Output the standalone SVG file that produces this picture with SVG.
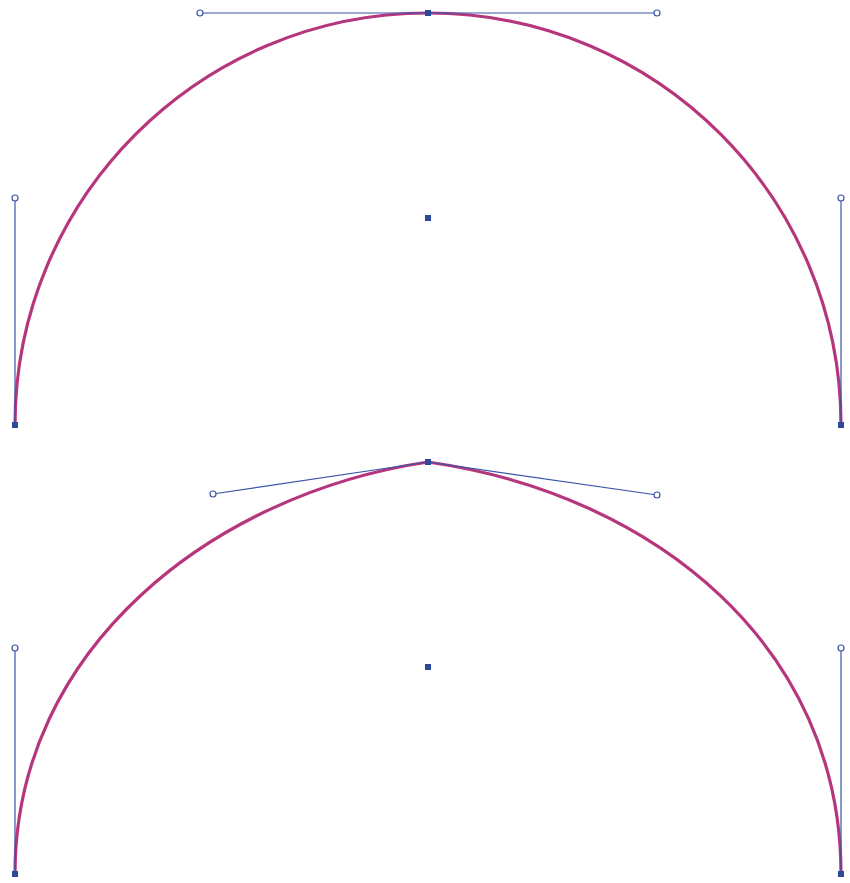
<svg xmlns="http://www.w3.org/2000/svg" width="850" height="883" viewBox="0 0 850 883">
<style>
.arc{fill:none;stroke:#c0357a;stroke-width:3.2}
.sel{fill:none;stroke:#3a4fa0;stroke-width:0.6;opacity:0.4}
.h{stroke:#3a55a8;stroke-width:1.2;fill:none}
.hc{fill:#fff;stroke:#3a55a8;stroke-width:1.2}
.pt{fill:#2d4a9a}
</style>
<rect width="850" height="883" fill="#fff"/>
<g id="top">
<g id="top-curve">
<path class="arc" d="M15,425 C15,198 200,13 428,13 C657,13 841,198 841,425"/>
<path class="sel" d="M15,425 C15,198 200,13 428,13 C657,13 841,198 841,425"/>
</g>
<g id="top-handles">
<line class="h" x1="15" y1="425" x2="15" y2="198"/>
<line class="h" x1="200" y1="13" x2="657" y2="13"/>
<line class="h" x1="841" y1="425" x2="841" y2="198"/>
<circle class="hc" cx="15" cy="198" r="3"/>
<circle class="hc" cx="200" cy="13" r="3"/>
<circle class="hc" cx="657" cy="13" r="3"/>
<circle class="hc" cx="841" cy="198" r="3"/>
</g>
<g id="top-points">
<rect class="pt" x="12" y="422" width="6" height="6"/>
<rect class="pt" x="425" y="10" width="6" height="6"/>
<rect class="pt" x="838" y="422" width="6" height="6"/>
<rect class="pt" x="425" y="215" width="6" height="6"/>
</g>
</g>
<g id="bottom">
<g id="bottom-curve">
<path class="arc" d="M15,874 C15,648 213,494 428,462 C657,495 841,648 841,874"/>
<path class="sel" d="M15,874 C15,648 213,494 428,462 C657,495 841,648 841,874"/>
</g>
<g id="bottom-handles">
<line class="h" x1="15" y1="874" x2="15" y2="648"/>
<polyline class="h" points="213,494 428,462 657,495"/>
<line class="h" x1="841" y1="874" x2="841" y2="648"/>
<circle class="hc" cx="15" cy="648" r="3"/>
<circle class="hc" cx="213" cy="494" r="3"/>
<circle class="hc" cx="657" cy="495" r="3"/>
<circle class="hc" cx="841" cy="648" r="3"/>
</g>
<g id="bottom-points">
<rect class="pt" x="12" y="871" width="6" height="6"/>
<rect class="pt" x="425" y="459" width="6" height="6"/>
<rect class="pt" x="838" y="871" width="6" height="6"/>
<rect class="pt" x="425" y="664" width="6" height="6"/>
</g>
</g>
</svg>
